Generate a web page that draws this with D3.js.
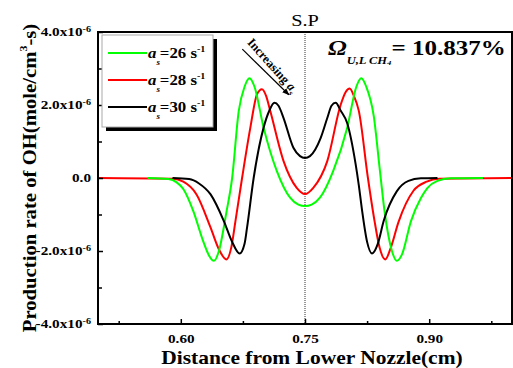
<!DOCTYPE html>
<html>
<head>
<meta charset="utf-8">
<script src="https://cdn.jsdelivr.net/npm/d3@7"></script>
<style>
body { margin: 0; background: #fff; }
svg { display: block; font-family: "Liberation Serif", "Times New Roman", serif; }
</style>
</head>
<body>
<div id="chart"></div>
<script>
// values, y in units of 1e-6 mole/cm^3-s
const x26 = [0.56, 0.585, 0.595, 0.603, 0.615, 0.627, 0.634, 0.640, 0.646, 0.655, 0.662, 0.670, 0.677, 0.683, 0.689, 0.700, 0.716, 0.732, 0.742, 0.750,
             0.758, 0.768, 0.784, 0.801, 0.812, 0.818, 0.824, 0.833, 0.840, 0.846, 0.855, 0.861, 0.867, 0.878, 0.890, 0.898, 0.910, 0.926, 0.965];
const y26 = [0, -0.03, -0.12, -0.3, -0.9, -1.73, -2.12, -2.27, -2.0, -0.95, 0, 1.84, 2.5, 2.73, 2.5, 1.38, 0.19, -0.54, -0.73, -0.77,
             -0.73, -0.54, 0.19, 1.38, 2.5, 2.73, 2.5, 1.7, 0.3, -0.9, -2.0, -2.27, -2.1, -1.18, -0.55, -0.27, -0.08, -0.01, 0];

const x28 = [0.50, 0.59, 0.603, 0.619, 0.636, 0.646, 0.655, 0.661, 0.666, 0.674, 0.684, 0.692, 0.698, 0.703, 0.708, 0.724, 0.740, 0.750,
             0.760, 0.777, 0.793, 0.799, 0.804, 0.809, 0.815, 0.826, 0.834, 0.840, 0.847, 0.853, 0.863, 0.881, 0.897, 0.912, 1.0];
const y28 = [0, -0.02, -0.1, -0.45, -1.36, -1.95, -2.23, -1.9, -1.18, 0, 1.38, 2.29, 2.43, 2.25, 1.84, 0.47, -0.27, -0.44,
             -0.27, 0.47, 2.0, 2.35, 2.45, 2.25, 1.84, 0, -1.18, -1.9, -2.23, -1.95, -1.2, -0.35, -0.1, -0.02, 0];

const x30 = [0.59, 0.61, 0.622, 0.636, 0.652, 0.662, 0.671, 0.677, 0.680, 0.688, 0.700, 0.707, 0.713, 0.718, 0.724, 0.736, 0.744, 0.750,
             0.756, 0.769, 0.777, 0.782, 0.787, 0.793, 0.801, 0.811, 0.815, 0.819, 0.825, 0.831, 0.838, 0.845, 0.861, 0.875, 0.890, 0.91];
const y30 = [0, -0.03, -0.15, -0.45, -1.18, -1.75, -2.07, -1.8, -1.36, 0, 1.38, 1.85, 2.06, 1.98, 1.65, 0.83, 0.6, 0.55,
             0.6, 1.10, 1.65, 1.98, 2.06, 1.85, 1.5, 0.4, -0.2, -0.9, -1.75, -2.07, -1.8, -1.18, -0.36, -0.08, -0.01, 0];

const xTicks = [0.60, 0.75, 0.90];
const xMinorTicks = [0.525, 0.675, 0.825, 0.975];
const yTicks = [-4, -2, 0, 2, 4];
const yMinorTicks = [-3, -1, 1, 3];
const yTickLabels = ["-4.0x10", "-2.0x10", "0.0", "2.0x10", "4.0x10"];

const width = 513, height = 368;
const margin = { top: 32, right: 1, bottom: 44, left: 98 };
const wide = 1.27; // the source picture is stretched sideways

const series = [
  { label: "26", xs: x26, ys: y26, color: "#00ff00" },
  { label: "28", xs: x28, ys: y28, color: "#ff0000" },
  { label: "30", xs: x30, ys: y30, color: "#000000" }
];

// widen text horizontally around its x anchor
function stretch(sel, k) {
  sel.each(function () {
    let t = d3.select(this);
    let ax = +t.attr("x") || 0;
    let prev = t.attr("transform") || "";
    t.attr("transform", `${prev} translate(${ax},0) scale(${k},1) translate(${-ax},0)`);
  });
}

let x = d3.scaleLinear().domain([0.5, 1.0]).range([margin.left, width - margin.right]);
let y = d3.scaleLinear().domain([-4, 4]).range([height - margin.bottom, margin.top]);

let svg = d3.select("#chart").append("svg")
  .attr("width", width)
  .attr("height", height);

// dotted stagnation plane line
svg.append("line")
  .attr("x1", x(0.75)).attr("x2", x(0.75))
  .attr("y1", y(4)).attr("y2", y(-4))
  .attr("stroke", "#333")
  .attr("stroke-width", 1)
  .attr("stroke-dasharray", "1,1");

let line = d3.line()
  .x(d => x(d[0]))
  .y(d => y(d[1]))
  .curve(d3.curveMonotoneX);

// red under green under black, like the original
[series[1], series[0], series[2]].forEach(s => {
  svg.append("path")
    .datum(s.xs.map((v, i) => [v, s.ys[i]]))
    .attr("fill", "none")
    .attr("stroke", s.color)
    .attr("stroke-width", 2)
    .attr("d", line);
});

// axes, ticks pointing inwards
let xAxis = svg.append("g")
  .attr("transform", `translate(0,${y(-4)})`)
  .call(d3.axisBottom(x).tickValues(xTicks).tickSize(-5).tickPadding(10).tickFormat(d3.format(".2f")));
xAxis.select(".domain").remove();
xAxis.selectAll("line").attr("stroke-width", 1.5);
xAxis.selectAll("text")
  .attr("font-family", "Liberation Serif")
  .attr("font-weight", "bold")
  .attr("font-size", 12)
  .attr("fill", "#000")
  .call(stretch, wide);

svg.append("g")
  .attr("transform", `translate(0,${y(-4)})`)
  .call(d3.axisBottom(x).tickValues(xMinorTicks).tickSize(-3).tickFormat(""))
  .call(g => g.select(".domain").remove())
  .selectAll("line").attr("stroke-width", 1.5);

let yAxis = svg.append("g")
  .attr("transform", `translate(${x(0.5)},0)`)
  .call(d3.axisLeft(y).tickValues(yTicks).tickSize(-5).tickPadding(7).tickFormat((d, i) => yTickLabels[i]));
yAxis.select(".domain").remove();
yAxis.selectAll("line").attr("stroke-width", 1.5);
yAxis.selectAll("text")
  .attr("font-family", "Liberation Serif")
  .attr("font-weight", "bold")
  .attr("font-size", 12)
  .attr("fill", "#000")
  .each(function (d) {
    if (d === 0) return;
    d3.select(this).append("tspan")
      .attr("font-size", 8)
      .attr("dy", "-0.6em")
      .text("-6");
  })
  .call(stretch, wide);

svg.append("g")
  .attr("transform", `translate(${x(0.5)},0)`)
  .call(d3.axisLeft(y).tickValues(yMinorTicks).tickSize(-4).tickFormat(""))
  .call(g => g.select(".domain").remove())
  .selectAll("line").attr("stroke-width", 1.5);

// frame
svg.append("rect")
  .attr("x", x(0.5)).attr("y", y(4))
  .attr("width", x(1.0) - x(0.5))
  .attr("height", y(-4) - y(4))
  .attr("fill", "none")
  .attr("stroke", "#000")
  .attr("stroke-width", 2);

// axis titles
svg.append("text")
  .attr("transform", `translate(36,${(y(4) + y(-4)) / 2}) rotate(-90)`)
  .attr("text-anchor", "middle")
  .attr("font-weight", "bold")
  .attr("font-size", 19)
  .text("Production rate of OH(mole/cm")
  .call(t => t.append("tspan").attr("font-size", 11).attr("dy", "-0.8em").text("3"))
  .call(t => t.append("tspan").attr("dy", "0.47em").text("-s)"))
  .call(stretch, 1.09);

svg.append("text")
  .attr("x", 312)
  .attr("y", 364)
  .attr("text-anchor", "middle")
  .attr("font-weight", "bold")
  .attr("font-size", 19)
  .text("Distance from Lower Nozzle(cm)")
  .call(stretch, 1.13);

svg.append("text")
  .attr("x", x(0.75))
  .attr("y", 26)
  .attr("text-anchor", "middle")
  .attr("font-size", 16)
  .text("S.P")
  .call(stretch, wide);

// Omega annotation
let om = svg.append("text")
  .attr("x", 328)
  .attr("y", 55)
  .attr("font-weight", "bold")
  .attr("font-size", 20);
om.append("tspan").attr("font-style", "italic").text("Ω");
om.append("tspan").attr("font-style", "italic").attr("font-size", 10).attr("dy", 9).text("U,L CH");
om.append("tspan").attr("font-style", "italic").attr("font-size", 7).attr("dy", 1).text("4");
om.append("tspan").attr("dy", -10).text("= 10.837%");
om.call(stretch, 1.25);

// Increasing a_s arrow
svg.append("defs").append("marker")
  .attr("id", "head")
  .attr("viewBox", "0 0 10 10")
  .attr("refX", 9).attr("refY", 5)
  .attr("markerWidth", 6).attr("markerHeight", 6)
  .attr("orient", "auto")
  .append("path").attr("d", "M0,1L10,5L0,9z").attr("fill", "#000");

svg.append("line")
  .attr("x1", x(0.6743)).attr("y1", y(3.53))
  .attr("x2", x(0.7305)).attr("y2", y(2.28))
  .attr("stroke", "#000")
  .attr("stroke-width", 1.2)
  .attr("marker-end", "url(#head)");

let inc = svg.append("text")
  .attr("transform", `translate(${x(0.6795)},${y(3.7)}) rotate(48)`)
  .attr("font-weight", "bold")
  .attr("font-size", 12.5);
inc.append("tspan").text("Increasing ");
inc.append("tspan").attr("font-style", "italic").text("a");
inc.append("tspan").attr("font-style", "italic").attr("font-size", 7.5).attr("dy", 3).text("s");

// legend with drop shadow
let lg = svg.append("g").attr("transform", "translate(102,35)");
lg.append("rect").attr("x", 4).attr("y", 4).attr("width", 111).attr("height", 92).attr("fill", "#000");
lg.append("rect").attr("width", 111).attr("height", 92).attr("fill", "#fff").attr("stroke", "#aaa").attr("stroke-width", 1);

series.forEach((s, i) => {
  let row = lg.append("g").attr("transform", `translate(0,${18 + i * 27})`);
  row.append("line")
    .attr("x1", 6).attr("x2", 45)
    .attr("stroke", s.color)
    .attr("stroke-width", 2);
  let t = row.append("text")
    .attr("x", 46)
    .attr("y", 5)
    .attr("font-weight", "bold")
    .attr("font-size", 15);
  t.append("tspan").attr("font-style", "italic").text("a");
  t.append("tspan").attr("font-style", "italic").attr("font-size", 8).attr("dy", 7).text("s");
  t.append("tspan").attr("dy", -7).text("=" + s.label + " s");
  t.append("tspan").attr("font-size", 9).attr("dy", -6).text("-1");
  t.call(stretch, 1.12);
});
</script>
</body>
</html>
